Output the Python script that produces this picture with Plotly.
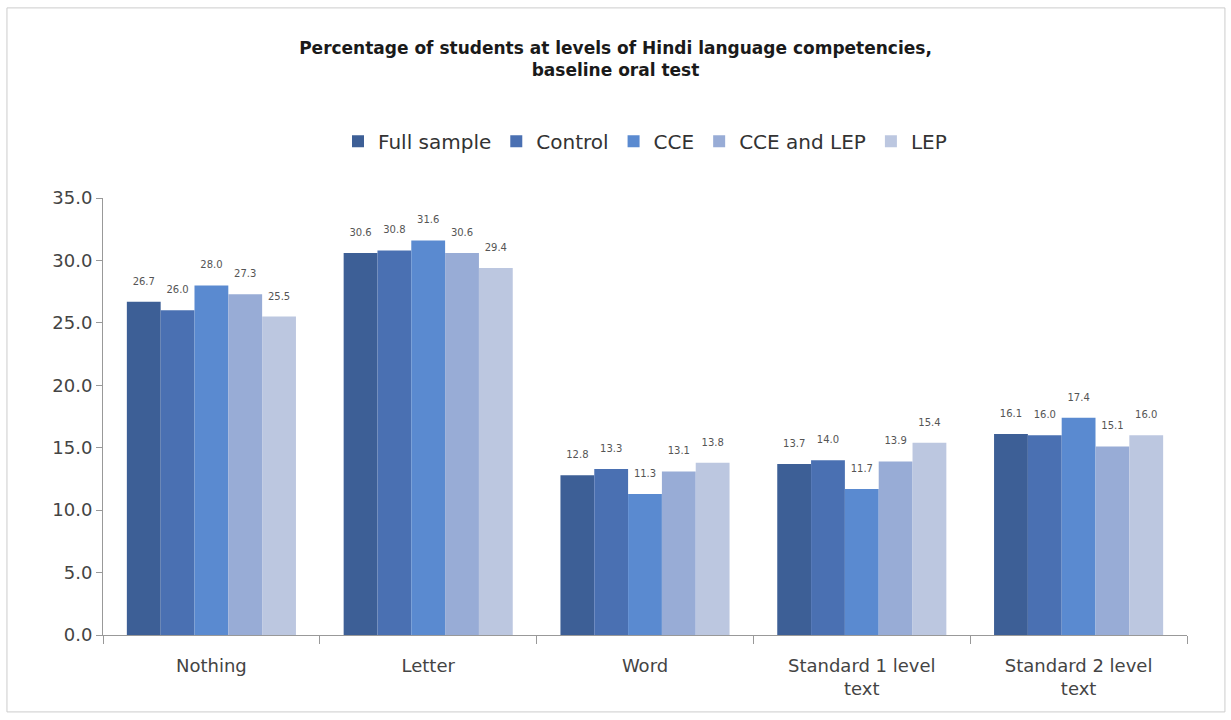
import plotly.graph_objects as go

categories = ["Nothing", "Letter", "Word", "Standard 1 level<br>text", "Standard 2 level<br>text"]
series_names = ["Full sample", "Control", "CCE", "CCE and LEP", "LEP"]
full_sample = [26.7, 30.6, 12.8, 13.7, 16.1]
control = [26.0, 30.8, 13.3, 14.0, 16.0]
cce = [28.0, 31.6, 11.3, 11.7, 17.4]
cce_lep = [27.3, 30.6, 13.1, 13.9, 15.1]
lep = [25.5, 29.4, 13.8, 15.4, 16.0]
y_ticks = [0, 5, 10, 15, 20, 25, 30, 35]

colors = ["#3d5f96", "#4a70b2", "#5a8ad0", "#98acd6", "#bcc7e0"]
values = [full_sample, control, cce, cce_lep, lep]

fig = go.Figure()
for name, vals, col in zip(series_names, values, colors):
    fig.add_trace(go.Bar(
        x=categories, y=vals, name=name,
        marker=dict(color=col, line=dict(width=0)),
        text=[f"{v:.1f}<br><span style='font-size:5px'> </span>" for v in vals],
        textposition="outside",
        textfont=dict(size=10, color="#555555", family="DejaVu Sans"),
        cliponaxis=False,
    ))

fig.update_layout(
    width=1231, height=720,
    paper_bgcolor="white", plot_bgcolor="white",
    margin=dict(l=103, r=44, t=198, b=85),
    barmode="group", bargap=0.22, bargroupgap=0,
    title=dict(
        text="<b>Percentage of students at levels of Hindi language competencies,<br>baseline oral test</b>",
        x=0.5, xanchor="center", y=0.925, yanchor="top",
        font=dict(family="DejaVu Sans", size=17, color="#1a1a1a"),
    ),
    legend=dict(
        orientation="h", x=0.5, xanchor="center", y=1.13, yanchor="middle",
        font=dict(family="DejaVu Sans", size=20, color="#333333"),
        itemwidth=30, traceorder="normal",
    ),
    font=dict(family="DejaVu Sans", color="#444444"),
    showlegend=True,
)
fig.update_yaxes(
    range=[0, 35], tickvals=y_ticks, ticktext=[f"{v:.1f}" for v in y_ticks],
    showgrid=False, showline=True, linecolor="#999999", linewidth=1,
    ticks="outside", ticklen=6, tickcolor="#999999",
    tickfont=dict(size=18, color="#444444"), zeroline=False,
)
fig.update_xaxes(
    showgrid=False, showline=True, linecolor="#999999", linewidth=1,
    ticks="outside", tickson="boundaries", ticklen=8, tickcolor="#999999",
    tickfont=dict(size=18, color="#444444"), ticklabelstandoff=14,
)
fig.add_shape(type="rect", xref="paper", yref="paper",
              x0=-0.0886, x1=1.035, y0=-0.176, y1=1.435,
              line=dict(color="#cccccc", width=1), fillcolor="rgba(0,0,0,0)", layer="below")

fig.write_html("out.html")
